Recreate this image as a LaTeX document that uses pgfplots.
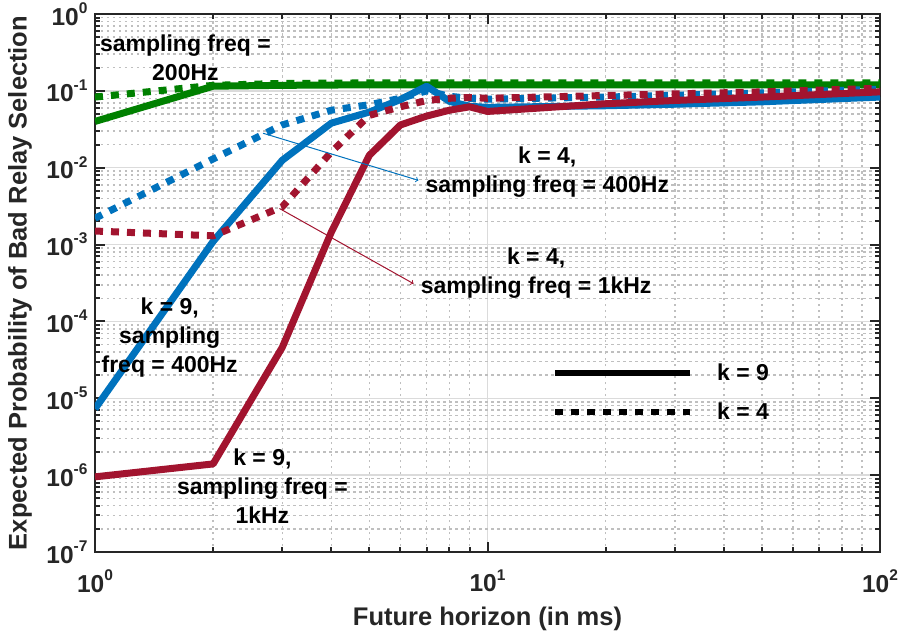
\documentclass[border=0pt]{standalone}
\usepackage{pgfplots}
\pgfplotsset{compat=1.18}
\usepackage{fontspec}
\setmainfont{Liberation Sans}
\definecolor{mblue}{rgb}{0,0.447,0.741}
\definecolor{mred}{rgb}{0.635,0.078,0.184}
\definecolor{mgreen}{rgb}{0,0.5,0}
\definecolor{axgray}{rgb}{0.15,0.15,0.15}
\newcommand{\tp}[1]{10\raisebox{0.48em}{\fontsize{15.5}{15.5}\selectfont #1}}
\begin{document}
\begin{tikzpicture}
\useasboundingbox (-95pt,-84pt) rectangle (804pt,552pt);
\begin{axis}[
  at={(0pt,0pt)}, anchor=south west,
  scale only axis, width=785pt, height=538pt,
  xmode=log, ymode=log,
  xmin=1, xmax=100, ymin=1e-7, ymax=1,
  xtick={1,10,100},
  xticklabels={\tp{0},\tp{1},\tp{2}},
  ytick={1e-7,1e-6,1e-5,1e-4,1e-3,1e-2,1e-1,1},
  yticklabels={\tp{-7},\tp{-6},\tp{-5},\tp{-4},\tp{-3},\tp{-2},\tp{-1},\tp{0}},
  minor xtick={2,3,4,5,6,7,8,9,20,30,40,50,60,70,80,90},
  minor ytick={2e-7,3e-7,4e-7,5e-7,6e-7,7e-7,8e-7,9e-7,
               2e-6,3e-6,4e-6,5e-6,6e-6,7e-6,8e-6,9e-6,
               2e-5,3e-5,4e-5,5e-5,6e-5,7e-5,8e-5,9e-5,
               2e-4,3e-4,4e-4,5e-4,6e-4,7e-4,8e-4,9e-4,
               2e-3,3e-3,4e-3,5e-3,6e-3,7e-3,8e-3,9e-3,
               2e-2,3e-2,4e-2,5e-2,6e-2,7e-2,8e-2,9e-2,
               2e-1,3e-1,4e-1,5e-1,6e-1,7e-1,8e-1,9e-1},
  grid=both,
  major grid style={line width=1.5pt, color=black!14},
  minor grid style={line width=1.5pt, color=black!25, dash pattern=on 2.5pt off 3.5pt},
  tick align=inside,
  major tick length=10pt, minor tick length=5pt,
  every tick/.style={line width=2pt, color=axgray},
  axis line style={line width=2.5pt, color=axgray},
  tick label style={font=\fontsize{24.5}{24.5}\selectfont\bfseries, text=axgray},
  xticklabel style={yshift=-14pt},
  yticklabel style={xshift=-4pt},
  xlabel={Future horizon (in ms)},
  ylabel={Expected Probability of Bad Relay Selection},
  label style={font=\fontsize{25.5}{26}\selectfont\bfseries, text=axgray},
  xlabel style={at={(rel axis cs:0.5,-0.125)}, anchor=center},
  ylabel style={at={(rel axis cs:-0.0955,0.5)}, anchor=center},
  legend style={draw=none, fill=none, at={(axis cs:14.6,3.0e-5)}, anchor=north west,
    font=\fontsize{23}{23}\selectfont\bfseries, row sep=17pt, inner sep=0pt},
  legend cell align=left,
  legend image code/.code={\draw[#1] (0pt,0pt) -- (135pt,0pt); \path[draw=none] (0pt,0pt) -- (160pt,0pt);},
  every axis plot/.append style={line width=7pt, line join=round},
]
% green k=9 200Hz
\addplot[mgreen, forget plot] coordinates {(1,0.04) (2,0.115) (3,0.118) (4,0.119) (5,0.12) (6,0.12) (7,0.12) (8,0.12) (9,0.12) (10,0.12) (20,0.12) (50,0.12) (100,0.12)};
% green k=4 200Hz
\addplot[mgreen, dash pattern=on 8pt off 8pt, forget plot] coordinates {(1,0.083) (2,0.118) (3,0.125) (4,0.126) (5,0.127) (6,0.127) (7,0.127) (8,0.127) (9,0.127) (10,0.127) (20,0.127) (50,0.127) (100,0.127)};
% blue k=9 400Hz
\addplot[mblue, forget plot] coordinates {(1,7.3e-6) (2,1.1e-3) (3,0.0125) (4,0.038) (5,0.053) (6,0.077) (7,0.115) (8,0.073) (9,0.063) (10,0.061) (20,0.064) (30,0.067) (50,0.072) (100,0.083)};
% blue k=4 400Hz
\addplot[mblue, dash pattern=on 8pt off 8pt, forget plot] coordinates {(1,2.2e-3) (2,0.013) (3,0.036) (4,0.056) (5,0.066) (6,0.08) (7,0.1) (8,0.085) (9,0.08) (10,0.078) (20,0.083) (50,0.094) (100,0.105)};
% red k=9 1kHz
\addplot[mred, forget plot] coordinates {(1,9.5e-7) (2,1.4e-6) (3,4.6e-5) (4,1.45e-3) (5,0.0145) (6,0.036) (7,0.047) (8,0.056) (9,0.062) (10,0.054) (20,0.068) (30,0.075) (50,0.083) (100,0.097)};
% red k=4 1kHz
\addplot[mred, dash pattern=on 8pt off 8pt, forget plot] coordinates {(1,1.5e-3) (2,1.3e-3) (3,3.1e-3) (4,0.016) (5,0.048) (6,0.062) (7,0.075) (8,0.08) (9,0.082) (10,0.08) (20,0.087) (50,0.097) (100,0.108)};

\addlegendimage{black, line width=6pt}
\addlegendentry{k = 9}
\addlegendimage{black, line width=6pt, dash pattern=on 8pt off 8pt}
\addlegendentry{k = 4}

\draw[->, mblue, line width=1pt] (axis cs:2.68,0.0281) -- (axis cs:6.67,0.00685);
\draw[->, mred, line width=1pt] (axis cs:2.95,0.00295) -- (axis cs:6.48,3.1e-4);

\begin{scope}[every node/.style={font=\fontsize{23}{29}\selectfont\bfseries, align=center, text=black}]
\node at (axis cs:1.70,0.267) {sampling freq =\\200Hz};
\node at (axis cs:14.2,0.0087) {k = 4,\\sampling freq = 400Hz};
\node at (axis cs:13.3,4.2e-4) {k = 4,\\sampling freq = 1kHz};
\node at (axis cs:1.55,6.2e-5) {k = 9,\\sampling\\freq = 400Hz};
\node at (axis cs:2.67,7.2e-7) {k = 9,\\sampling freq =\\1kHz};
\end{scope}
\end{axis}
\end{tikzpicture}
\end{document}
